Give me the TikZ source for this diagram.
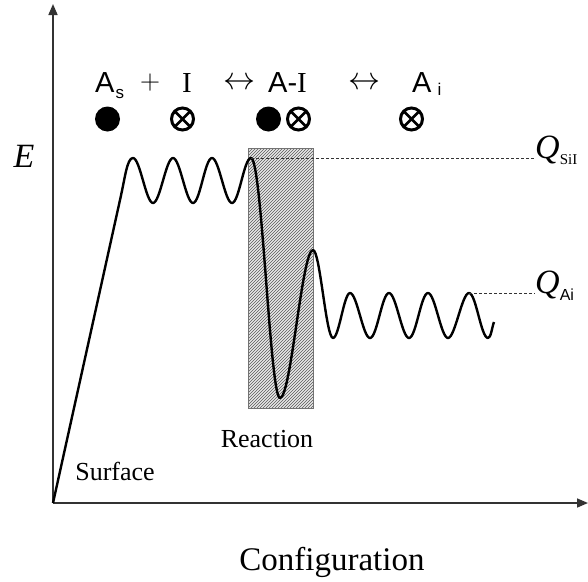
\documentclass[tikz,border=0pt]{standalone}
\usepackage{fontspec}
\setmainfont{Liberation Serif}
\setsansfont{Liberation Sans}
\usetikzlibrary{arrows.meta,patterns}
\begin{document}
\begin{tikzpicture}[x=1pt,y=-1pt,
  axis/.style={line width=1.6pt, draw=black!80, -{Triangle[length=11pt,width=9pt]}},
  curve/.style={line width=2.4pt, draw=black, line join=round},
  qdash/.style={line width=0.9pt, dash pattern=on 3pt off 2pt, draw=black!80},
  lbl/.style={inner sep=0pt, anchor=base, font=\fontsize{26}{26}\selectfont},
  species/.style={inner sep=0pt, anchor=base west, font=\sffamily\fontsize{29}{29}\selectfont},
  sym/.style={inner sep=0pt, anchor=center, font=\fontsize{30}{30}\selectfont},
  dotA/.style={circle, fill=black, minimum size=25pt, inner sep=0pt},
  dotI/.style={circle, draw=black, line width=3pt, minimum size=22pt, inner sep=0pt,
    path picture={\draw[line width=2.6pt]
      (path picture bounding box.south west) -- (path picture bounding box.north east)
      (path picture bounding box.north west) -- (path picture bounding box.south east);}},
  qlbl/.style={inner sep=0pt, anchor=base west}
]
\useasboundingbox (0,0) rectangle (588,581);

% axes
\coordinate (O) at (53,503);
\coordinate (Ytip) at (53,4);
\coordinate (Xtip) at (588,503);
\draw[axis] (O) -- (Ytip);
\draw[axis] (O) -- (Xtip);

% reaction box
\node (box) [minimum width=64pt, minimum height=259pt, inner sep=0pt, fill=gray!18] at (281,278.5) {};
\fill[pattern=north east lines, pattern color=black!65] (box.south west) rectangle (box.north east);
\draw[line width=0.9pt, black!55] (box.south west) rectangle (box.north east);

% energy curve
\draw[curve] (O) -- (120,200) .. controls (125,178) and (127,158) .. (133,158)
  .. controls +(7,0) and +(-7,0) .. (153,203)
  .. controls +(7,0) and +(-7,0) .. (173,158)
  .. controls +(7,0) and +(-7,0) .. (193,203)
  .. controls +(7,0) and +(-7,0) .. (212,158)
  .. controls +(7,0) and +(-7,0) .. (232,203)
  .. controls +(7,0) and +(-7,0) .. (251,158)
  .. controls +(11,0) and +(-10,0) .. (280,398)
  .. controls +(11,0) and +(-11,0) .. (313,250)
  .. controls +(7,0) and +(-7,0) .. (333,338)
  .. controls +(6,0) and +(-6,0) .. (350,293)
  .. controls +(7,0) and +(-7,0) .. (370,338)
  .. controls +(7,0) and +(-7,0) .. (389,293)
  .. controls +(7,0) and +(-7,0) .. (409,338)
  .. controls +(7,0) and +(-7,0) .. (428,293)
  .. controls +(7,0) and +(-7,0) .. (448,338)
  .. controls +(7,0) and +(-7,0) .. (469,293)
  .. controls +(7,0) and +(-7,0) .. (488,338)
  .. controls +(3,0) and +(-2,5) .. (494,322);

% Q labels and dashed levels
\coordinate (pk1) at (251,158);
\coordinate (pk2) at (469,293);
\node[qlbl] (QS) at (535,158) {{\itshape\fontsize{34}{34}\selectfont Q}\raisebox{-6pt}{\fontsize{15}{15}\selectfont SiI}};
\node[qlbl] (QA) at (535,293) {{\itshape\fontsize{34}{34}\selectfont Q}\raisebox{-7pt}{\sffamily\fontsize{16}{16}\selectfont Ai}};
\draw[qdash] (pk1) -- (QS.base west);
\draw[qdash] (pk2) -- (QA.base west);

% axis labels
\node[inner sep=0pt, anchor=base, font=\itshape\fontsize{34}{34}\selectfont] (E) at (24,167) {E};
\node[inner sep=0pt, anchor=base, font=\fontsize{33}{33}\selectfont] (conf) at (332,570) {Configuration};
\node[lbl] (surf) at (115,480) {Surface};
\node[lbl] (react) at (267,447) {Reaction};

% reaction equation
\node[species] (As) at (95,92) {A\hspace{1pt}\raisebox{-6pt}{\fontsize{17}{17}\selectfont s}};
\node[sym] (plus) at (150,83) {\resizebox{20pt}{!}{$+$}};
\node[inner sep=0pt, anchor=base, font=\fontsize{29}{29}\selectfont] (I) at (187,92) {I};
\node[sym] (arr1) at (239,84) {\resizebox{32pt}{!}{$\leftrightarrow$}};
\node[species] (AI) at (268,92) {A-{\rmfamily\fontsize{29}{29}\selectfont I}};
\node[sym] (arr2) at (364,84) {\resizebox{32pt}{!}{$\leftrightarrow$}};
\node[species] (Ai) at (412,92) {A\hspace{6pt}\raisebox{-3pt}{\fontsize{17}{17}\selectfont i}};

% species symbols
\node[dotA] (d1) at (107.5,119) {};
\node[dotI] (x1) at (182.5,119) {};
\node[dotA] (d2) at (268.5,119) {};
\node[dotI] (x2) at (298.5,119) {};
\node[dotI] (x3) at (411.5,119) {};
\end{tikzpicture}
\end{document}
